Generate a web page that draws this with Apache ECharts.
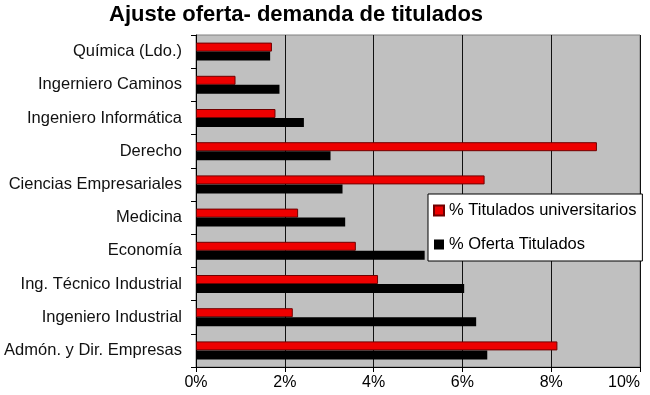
<!DOCTYPE html>
<html><head><meta charset="utf-8">
<script src="https://cdn.jsdelivr.net/npm/echarts@6/dist/echarts.min.js"></script>
<style>html,body{margin:0;padding:0;background:#fff}#c{width:650px;height:395px}</style>
</head><body><div id="c"></div>
<script>
const categories = ["Química (Ldo.)","Ingerniero Caminos","Ingeniero Informática","Derecho","Ciencias Empresariales","Medicina","Economía","Ing. Técnico Industrial","Ingeniero Industrial","Admón. y Dir. Empresas"];
const tituladosUniv = [1.71, 0.89, 1.79, 9.03, 6.50, 2.30, 3.60, 4.10, 2.18, 8.14];
const ofertaTitulados = [1.67, 1.88, 2.43, 3.03, 3.30, 3.36, 5.15, 6.04, 6.31, 6.56];
const xTicks = [0, 2, 4, 6, 8, 10];
const seriesNames = ["% Titulados universitarios", "% Oferta Titulados"];

const chart = echarts.init(document.getElementById('c'));
const font = 'Arial, "Liberation Sans", sans-serif';
chart.setOption({
  animation: false,
  backgroundColor: '#fff',
  title: {
    text: 'Ajuste oferta- demanda de titulados',
    left: 104, top: -1,
    textStyle: {fontFamily: font, fontWeight: 'bold', fontSize: 22, color: '#000'}
  },
  legend: {
    orient: 'vertical',
    left: 428, top: 194,
    backgroundColor: '#fff',
    borderColor: '#000', borderWidth: 1,
    padding: [8, 6, 8, 5],
    itemWidth: 10, itemHeight: 10, itemGap: 17,
    icon: 'rect',
    textStyle: {fontFamily: font, fontSize: 16.5, color: '#000'},
    data: seriesNames
  },
  grid: {left: 196, right: 10, top: 35, bottom: 28, outerBoundsMode: 'none', show: true, backgroundColor: '#c0c0c0', borderColor: '#808080', borderWidth: 1},
  xAxis: {
    type: 'value', min: xTicks[0], max: xTicks[xTicks.length-1], interval: 2,
    axisLine: {show: true, lineStyle: {color: '#000'}},
    axisTick: {show: true, length: 5, lineStyle: {color: '#000'}},
    axisLabel: {formatter: v => v + '%', fontFamily: font, fontSize: 16, color: '#000', margin: 8, alignMaxLabel: 'right'},
    splitLine: {show: true, lineStyle: {color: '#111', width: 1}}
  },
  yAxis: {
    type: 'category', data: categories, inverse: true,
    axisLine: {show: true, lineStyle: {color: '#000'}},
    axisTick: {show: true, length: 5, lineStyle: {color: '#000'}},
    axisLabel: {fontFamily: font, fontSize: 16.5, color: '#111', margin: 14},
    splitLine: {show: false}
  },
  series: [
    {name: seriesNames[0], type: 'bar', data: tituladosUniv, barWidth: 9, barGap: '0%',
     itemStyle: {color: '#ee0000', borderColor: '#700000', borderWidth: 1}},
    {name: seriesNames[1], type: 'bar', data: ofertaTitulados, barWidth: 9, barGap: '0%',
     itemStyle: {color: '#000'}}
  ]
});
</script></body></html>
